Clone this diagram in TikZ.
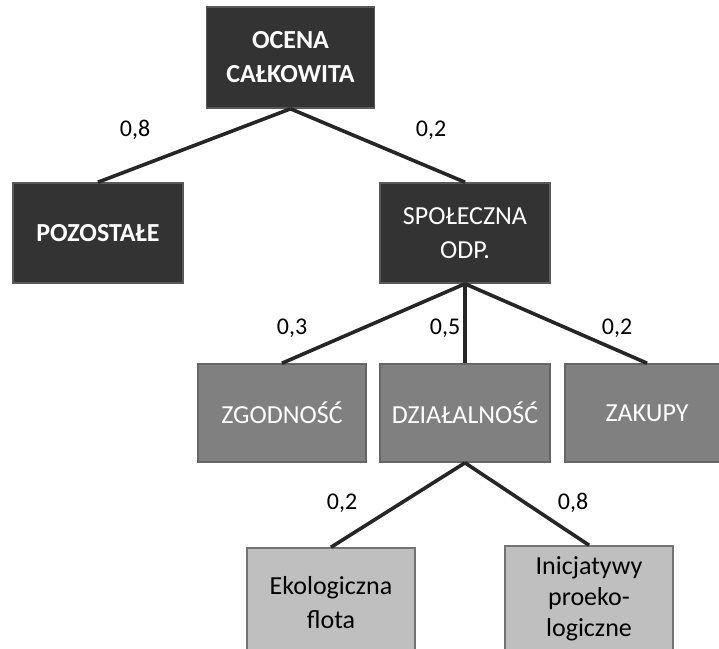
\documentclass[tikz,border=0pt]{standalone}
\usepackage{fontspec}
\setmainfont{Carlito}
\begin{document}
\begin{tikzpicture}[x=1pt,y=-1pt,
  box/.style={rectangle, inner sep=0pt, align=center, line width=1.6pt,
    font=\fontsize{26}{34}\selectfont},
  darkbox/.style={box, fill=black!80, draw=black!65, text=white},
  midbox/.style={box, fill=black!50, draw=black!60, text=white},
  lightbox/.style={box, fill=black!25, draw=black!55, text=black},
  link/.style={line width=3.6pt, draw=black!85},
  weight/.style={font=\fontsize{24}{28}\selectfont, text=black}]
  \useasboundingbox (0,0) rectangle (719,648);
  % top level
  \node[darkbox, minimum width=168pt, minimum height=101pt, font=\fontsize{26}{34}\selectfont\bfseries]
    (total) at (290.5,57.5) {OCENA\\CAŁKOWITA};
  % second level
  \node[darkbox, minimum width=170pt, minimum height=100pt, font=\fontsize{26}{34}\selectfont\bfseries]
    (rest) at (98,233) {POZOSTAŁE};
  \node[darkbox, minimum width=170pt, minimum height=100pt]
    (csr) at (465,233) {SPOŁECZNA\\ODP.};
  % third level
  \node[midbox, minimum width=168pt, minimum height=98pt] (comp) at (282,413) {ZGODNOŚĆ};
  \node[midbox, minimum width=170pt, minimum height=98pt] (ops) at (465,413) {DZIAŁALNOŚĆ};
  \node[midbox, minimum width=164pt, minimum height=98pt] (buy) at (647,413) {ZAKUPY};
  % fourth level
  \node[lightbox, minimum width=168pt, minimum height=110pt] (fleet) at (331,603) {Ekologiczna\\flota};
  \node[lightbox, minimum width=168pt, minimum height=106pt, font=\fontsize{26}{31}\selectfont]
    (eco) at (589,599) {Inicjatywy\\proeko-\\logiczne};
  % connectors
  \draw[link] (total.south) -- (rest.north);
  \draw[link] (total.south) -- (csr.north);
  \draw[link] (csr.south) -- (comp.north);
  \draw[link] (csr.south) -- (ops.north);
  \draw[link] (csr.south) -- (buy.north);
  \draw[link] (ops.south) -- (fleet.north);
  \draw[link] (ops.south) -- (eco.north);
  % weights
  \node[weight] (w1) at (135,130) {0,8};
  \node[weight] (w2) at (431,130) {0,2};
  \node[weight] (w3) at (292,328) {0,3};
  \node[weight] (w4) at (445,328) {0,5};
  \node[weight] (w5) at (617,328) {0,2};
  \node[weight] (w6) at (342,503) {0,2};
  \node[weight] (w7) at (573,503) {0,8};
\end{tikzpicture}
\end{document}
